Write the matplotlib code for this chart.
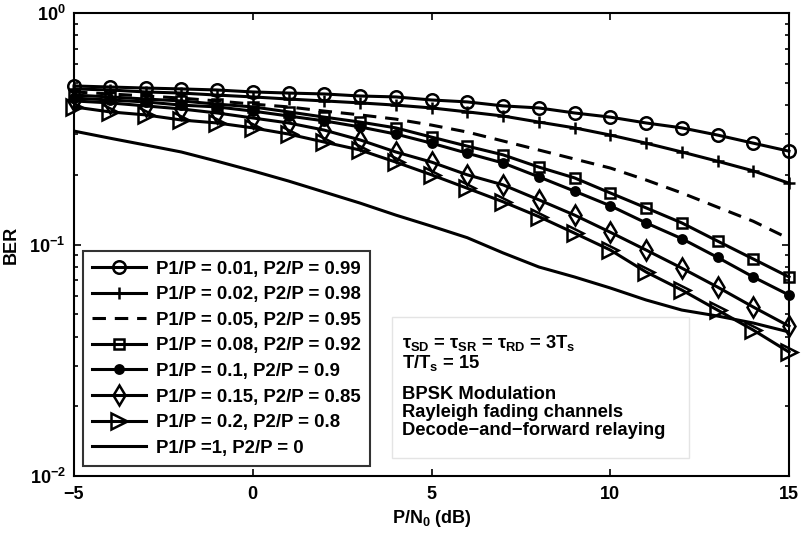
import matplotlib
matplotlib.use("Agg")
import matplotlib.pyplot as plt
from matplotlib.patches import Rectangle

plt.rcParams['font.family'] = ['Liberation Sans', 'DejaVu Sans']
plt.rcParams['font.weight'] = 'bold'
plt.rcParams['mathtext.fontset'] = 'custom'
plt.rcParams['mathtext.rm'] = 'Liberation Sans:bold'
plt.rcParams['mathtext.it'] = 'Liberation Sans:bold'
plt.rcParams['mathtext.bf'] = 'Liberation Sans:bold'

# SNR grid (dB)
snr = list(range(-5, 16))

# BER values
ber_001 = [0.484, 0.479, 0.474, 0.470, 0.465, 0.456, 0.451, 0.447, 0.438, 0.434, 0.421,
           0.413, 0.397, 0.389, 0.370, 0.355, 0.335, 0.319, 0.297, 0.274, 0.253]
ber_002 = [0.470, 0.465, 0.456, 0.451, 0.442, 0.434, 0.425, 0.417, 0.409, 0.400, 0.389,
           0.374, 0.359, 0.338, 0.319, 0.297, 0.274, 0.251, 0.229, 0.208, 0.184]
ber_005 = [0.456, 0.447, 0.438, 0.429, 0.417, 0.404, 0.393, 0.377, 0.363, 0.348, 0.328,
           0.306, 0.280, 0.256, 0.234, 0.214, 0.190, 0.167, 0.145, 0.126, 0.106]
ber_008 = [0.442, 0.434, 0.425, 0.417, 0.404, 0.393, 0.374, 0.355, 0.338, 0.319, 0.291,
           0.266, 0.244, 0.216, 0.194, 0.167, 0.144, 0.124, 0.1035, 0.0866, 0.0724]
ber_010 = [0.429, 0.421, 0.413, 0.400, 0.393, 0.377, 0.359, 0.342, 0.322, 0.300, 0.274,
           0.248, 0.225, 0.196, 0.170, 0.147, 0.124, 0.106, 0.088, 0.0724, 0.0605]
ber_015 = [0.417, 0.409, 0.397, 0.385, 0.370, 0.352, 0.335, 0.312, 0.283, 0.251, 0.227,
           0.200, 0.181, 0.156, 0.134, 0.113, 0.0947, 0.0791, 0.0655, 0.0537, 0.0444]
ber_020 = [0.393, 0.374, 0.363, 0.345, 0.335, 0.319, 0.300, 0.277, 0.256, 0.227, 0.200,
           0.175, 0.153, 0.132, 0.112, 0.0947, 0.0761, 0.0636, 0.0521, 0.0427, 0.0343]
ber_100 = [0.309, 0.288, 0.269, 0.251, 0.229, 0.208, 0.188, 0.1685, 0.151, 0.134, 0.120,
           0.107, 0.092, 0.080, 0.0724, 0.0649, 0.0576, 0.0521, 0.0491, 0.0458, 0.0419]

labels = ["P1/P = 0.01, P2/P = 0.99", "P1/P = 0.02, P2/P = 0.98",
          "P1/P = 0.05, P2/P = 0.95", "P1/P = 0.08, P2/P = 0.92",
          "P1/P = 0.1, P2/P = 0.9", "P1/P = 0.15, P2/P = 0.85",
          "P1/P = 0.2, P2/P = 0.8", "P1/P =1, P2/P = 0"]

fs = 13

fig = plt.figure(figsize=(8.01, 5.36), dpi=100)
ax = fig.add_axes([74 / 801, 1 - 476 / 536, 715 / 801, 463 / 536])

lw = 2.2
mew = 1.8
ax.plot(snr, ber_001, 'k-', lw=lw, marker='o', ms=9, mfc='none', mew=mew, label=labels[0], clip_on=False)
ax.plot(snr, ber_002, 'k-', lw=lw, marker='+', ms=9, mew=mew, label=labels[1], clip_on=False)
ax.plot(snr, ber_005, 'k--', lw=lw, dashes=(4.4, 2.9), label=labels[2])
ax.plot(snr, ber_008, 'k-', lw=lw, marker='s', ms=7.5, mfc='none', mew=mew, label=labels[3], clip_on=False)
ax.plot(snr, ber_010, 'k-', lw=lw, marker='o', ms=6, mfc='k', mew=mew, label=labels[4], clip_on=False)
ax.plot(snr, ber_015, 'k-', lw=lw, marker='d', ms=10, mfc='none', mew=mew, label=labels[5], clip_on=False)
ax.plot(snr, ber_020, 'k-', lw=lw, marker='>', ms=11, mfc='none', mew=mew, label=labels[6], clip_on=False)
ax.plot(snr, ber_100, 'k-', lw=lw, label=labels[7])

ax.set_yscale('log')
ax.set_xlim(-5, 15)
ax.set_ylim(1e-2, 1)
ax.set_xticks([-5, 0, 5, 10, 15])
ax.set_xticklabels(['\u22125', '0', '5', '10', '15'])
ax.set_yticks([1e-2, 1e-1, 1])
ax.set_yticklabels([r'$10^{-2}$', r'$10^{-1}$', r'$10^{0}$'])
ax.tick_params(which='both', direction='in', top=True, right=True, labelsize=fs, width=1.2)
ax.tick_params(which='major', length=5, pad=6)
ax.tick_params(axis='x', which='major', pad=7)
ax.tick_params(which='minor', length=3)
for s in ax.spines.values():
    s.set_linewidth(1.5)

ax.set_xlabel(r'P/N$_0$ (dB)', fontsize=fs, fontweight='bold', labelpad=4)
ax.set_ylabel('BER', fontsize=fs, fontweight='bold')
ax.yaxis.set_label_coords(-0.0755, 0.5)

leg = ax.legend(loc='lower left', bbox_to_anchor=(0.0126, 0.0216), borderaxespad=0,
                fontsize=13.4, frameon=True, fancybox=False, edgecolor='k',
                handlelength=2.9, handletextpad=0.5, borderpad=0.5, labelspacing=0.46)
leg.get_frame().set_linewidth(1.5)
leg.set_zorder(10)
for t in leg.get_texts():
    t.set_fontweight('bold')

# annotation box
ax.add_patch(Rectangle((0.445, 0.039), 0.415, 0.304, transform=ax.transAxes,
                       facecolor='white', edgecolor='#e4e4e4', lw=1.0, zorder=5))
notes = [r'$\tau_{SD}$ = $\tau_{SR}$ = $\tau_{RD}$ = 3T$_s$', r'T/T$_s$ = 15',
         'BPSK Modulation', 'Rayleigh fading channels', 'Decode\u2212and\u2212forward relaying']
note_y = [0.287, 0.244, 0.177, 0.138, 0.099]
for txt, yy in zip(notes, note_y):
    ax.text(0.459, yy, txt, transform=ax.transAxes, fontsize=13.2, fontweight='bold',
            va='center', ha='left', zorder=6)

fig.savefig('out.png', dpi=100)
